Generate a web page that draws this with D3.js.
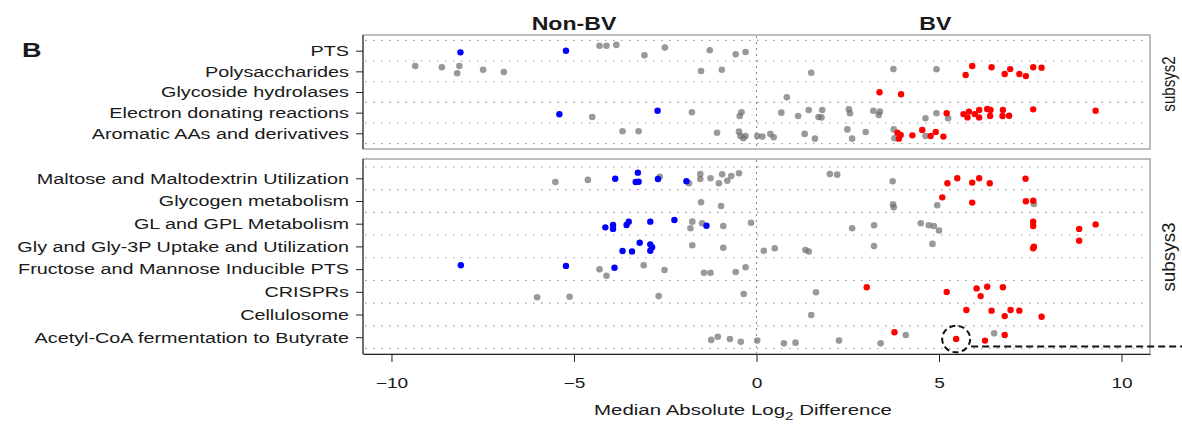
<!DOCTYPE html>
<html>
<head>
<meta charset="utf-8">
<script src="https://cdn.jsdelivr.net/npm/d3@7"></script>
<style>
  body { margin: 0; background: #fff; }
  svg { display: block; }
  text { font-family: "Liberation Sans", Arial, Helvetica, sans-serif; fill: #1a1a1a; }
</style>
</head>
<body>
<svg id="chart" width="1182" height="433"></svg>
<script>
// ---- data -------------------------------------------------------------
const xTicks = [-10, -5, 0, 5, 10];
const groupLabels = ["Non-BV", "BV"];
const groupLabelAt = [-5, 4.9];

const subsys2Cats = ["PTS", "Polysaccharides", "Glycoside hydrolases",
  "Electron donating reactions", "Aromatic AAs and derivatives"];
const subsys3Cats = ["Maltose and Maltodextrin Utilization", "Glycogen metabolism",
  "GL and GPL Metabolism", "Gly and Gly-3P Uptake and Utilization",
  "Fructose and Mannose Inducible PTS", "CRISPRs", "Cellulosome",
  "Acetyl-CoA fermentation to Butyrate"];

// [subsystem, median absolute log2 difference, vertical jitter (fraction of row)]
const nonBvPoints = [
  ["PTS", -8.11, 0.08], ["PTS", -5.22, 0.00],
  ["Electron donating reactions", -5.40, 0.08], ["Electron donating reactions", -2.71, -0.09],
  ["Maltose and Maltodextrin Utilization", -3.87, 0.02], ["Maltose and Maltodextrin Utilization", -3.25, -0.25],
  ["Maltose and Maltodextrin Utilization", -3.31, 0.16], ["Maltose and Maltodextrin Utilization", -3.23, 0.15],
  ["Maltose and Maltodextrin Utilization", -2.70, 0.03], ["Maltose and Maltodextrin Utilization", -1.92, 0.13],
  ["GL and GPL Metabolism", -2.25, -0.16], ["GL and GPL Metabolism", -2.91, -0.09],
  ["GL and GPL Metabolism", -3.50, -0.09], ["GL and GPL Metabolism", -3.56, 0.06],
  ["GL and GPL Metabolism", -4.14, 0.16], ["GL and GPL Metabolism", -3.93, 0.06],
  ["GL and GPL Metabolism", -3.93, 0.23], ["GL and GPL Metabolism", -1.37, 0.09],
  ["Gly and Gly-3P Uptake and Utilization", -3.20, -0.16], ["Gly and Gly-3P Uptake and Utilization", -2.91, -0.09],
  ["Gly and Gly-3P Uptake and Utilization", -2.86, 0.04], ["Gly and Gly-3P Uptake and Utilization", -2.91, 0.19],
  ["Gly and Gly-3P Uptake and Utilization", -3.67, 0.20], ["Gly and Gly-3P Uptake and Utilization", -3.41, 0.22],
  ["Fructose and Mannose Inducible PTS", -8.10, -0.17], ["Fructose and Mannose Inducible PTS", -5.22, -0.14],
  ["Fructose and Mannose Inducible PTS", -3.89, -0.06]
];

const bvPoints = [
  ["Polysaccharides", 5.73, 0.18], ["Polysaccharides", 5.91, -0.26], ["Polysaccharides", 6.44, -0.20],
  ["Polysaccharides", 6.80, 0.13], ["Polysaccharides", 6.95, -0.11], ["Polysaccharides", 7.20, 0.13],
  ["Polysaccharides", 7.38, 0.23], ["Polysaccharides", 7.58, -0.20], ["Polysaccharides", 7.81, -0.18],
  ["Glycoside hydrolases", 3.37, 0.01], ["Glycoside hydrolases", 3.96, 0.11],
  ["Electron donating reactions", 5.21, 0.03], ["Electron donating reactions", 5.67, 0.07],
  ["Electron donating reactions", 5.78, 0.23], ["Electron donating reactions", 5.82, -0.05],
  ["Electron donating reactions", 5.98, 0.07], ["Electron donating reactions", 6.10, -0.13],
  ["Electron donating reactions", 6.10, 0.23], ["Electron donating reactions", 6.32, -0.18],
  ["Electron donating reactions", 6.40, 0.16], ["Electron donating reactions", 6.41, -0.13],
  ["Electron donating reactions", 6.75, -0.13], ["Electron donating reactions", 6.74, 0.16],
  ["Electron donating reactions", 6.92, 0.15], ["Electron donating reactions", 7.58, -0.16],
  ["Electron donating reactions", 9.29, -0.09],
  ["Aromatic AAs and derivatives", 3.86, -0.03], ["Aromatic AAs and derivatives", 3.90, 0.26],
  ["Aromatic AAs and derivatives", 3.95, 0.08], ["Aromatic AAs and derivatives", 4.27, 0.10],
  ["Aromatic AAs and derivatives", 4.54, -0.16], ["Aromatic AAs and derivatives", 4.77, 0.13],
  ["Aromatic AAs and derivatives", 4.91, -0.06], ["Aromatic AAs and derivatives", 5.12, 0.16],
  ["Maltose and Maltodextrin Utilization", 5.23, 0.22], ["Maltose and Maltodextrin Utilization", 5.50, 0.00],
  ["Maltose and Maltodextrin Utilization", 5.91, 0.19], ["Maltose and Maltodextrin Utilization", 6.10, 0.00],
  ["Maltose and Maltodextrin Utilization", 6.39, 0.22], ["Maltose and Maltodextrin Utilization", 7.37, 0.02],
  ["Glycogen metabolism", 5.09, -0.16], ["Glycogen metabolism", 5.91, 0.07],
  ["Glycogen metabolism", 7.38, 0.01], ["Glycogen metabolism", 7.58, -0.01],
  ["GL and GPL Metabolism", 7.58, -0.09], ["GL and GPL Metabolism", 7.58, 0.10],
  ["GL and GPL Metabolism", 8.84, 0.23], ["GL and GPL Metabolism", 9.29, 0.03],
  ["Gly and Gly-3P Uptake and Utilization", 7.60, 0.01], ["Gly and Gly-3P Uptake and Utilization", 7.58, 0.08],
  ["Gly and Gly-3P Uptake and Utilization", 8.84, -0.25],
  ["CRISPRs", 3.02, -0.20], ["CRISPRs", 5.21, 0.01], ["CRISPRs", 6.03, -0.15],
  ["CRISPRs", 6.32, -0.22], ["CRISPRs", 6.14, 0.19], ["CRISPRs", 6.75, -0.20],
  ["Cellulosome", 5.75, -0.20], ["Cellulosome", 6.44, -0.17], ["Cellulosome", 6.80, 0.07],
  ["Cellulosome", 6.96, -0.20], ["Cellulosome", 7.20, -0.17], ["Cellulosome", 7.81, 0.10],
  ["Acetyl-CoA fermentation to Butyrate", 3.78, -0.22], ["Acetyl-CoA fermentation to Butyrate", 5.47, 0.08],
  ["Acetyl-CoA fermentation to Butyrate", 6.26, 0.15], ["Acetyl-CoA fermentation to Butyrate", 6.80, -0.10]
];

const otherPoints = [
  ["PTS", -4.30, -0.24], ["PTS", -4.11, -0.24], ["PTS", -3.84, -0.28], ["PTS", -3.07, 0.22],
  ["PTS", -2.51, -0.15], ["PTS", -1.28, -0.02], ["PTS", -0.57, 0.17], ["PTS", -0.30, 0.06],
  ["Polysaccharides", -9.35, -0.26], ["Polysaccharides", -8.62, -0.20], ["Polysaccharides", -8.14, -0.26],
  ["Polysaccharides", -8.20, 0.09], ["Polysaccharides", -7.49, -0.08], ["Polysaccharides", -6.92, 0.03],
  ["Polysaccharides", -1.52, -0.02], ["Polysaccharides", -0.95, -0.08], ["Polysaccharides", 1.50, 0.07],
  ["Polysaccharides", 3.75, -0.11], ["Polysaccharides", 4.93, -0.10],
  ["Glycoside hydrolases", 0.83, 0.26],
  ["Electron donating reactions", -4.50, 0.21], ["Electron donating reactions", -1.77, -0.02],
  ["Electron donating reactions", -0.41, -0.02], ["Electron donating reactions", -0.46, 0.16],
  ["Electron donating reactions", 0.68, 0.00], ["Electron donating reactions", 1.14, 0.16],
  ["Electron donating reactions", 1.43, -0.13], ["Electron donating reactions", 1.80, -0.13],
  ["Electron donating reactions", 1.78, 0.23], ["Electron donating reactions", 1.70, 0.21],
  ["Electron donating reactions", 2.53, -0.16], ["Electron donating reactions", 2.56, 0.03],
  ["Electron donating reactions", 3.20, -0.09], ["Electron donating reactions", 3.38, -0.05],
  ["Electron donating reactions", 3.35, 0.11], ["Electron donating reactions", 4.63, 0.27],
  ["Electron donating reactions", 4.93, 0.03], ["Electron donating reactions", 5.25, 0.27],
  ["Aromatic AAs and derivatives", -3.67, -0.10], ["Aromatic AAs and derivatives", -3.23, -0.10],
  ["Aromatic AAs and derivatives", -1.08, -0.03], ["Aromatic AAs and derivatives", -0.48, -0.08],
  ["Aromatic AAs and derivatives", -0.44, 0.13], ["Aromatic AAs and derivatives", -0.36, 0.24],
  ["Aromatic AAs and derivatives", -0.30, 0.13], ["Aromatic AAs and derivatives", 0.02, 0.13],
  ["Aromatic AAs and derivatives", 0.16, 0.16], ["Aromatic AAs and derivatives", 0.38, 0.03],
  ["Aromatic AAs and derivatives", 0.47, 0.19], ["Aromatic AAs and derivatives", 1.32, 0.03],
  ["Aromatic AAs and derivatives", 1.60, 0.26], ["Aromatic AAs and derivatives", 2.49, -0.19],
  ["Aromatic AAs and derivatives", 2.62, 0.26], ["Aromatic AAs and derivatives", 2.99, -0.06],
  ["Aromatic AAs and derivatives", 3.76, -0.19], ["Aromatic AAs and derivatives", 3.78, 0.24],
  ["Aromatic AAs and derivatives", 4.63, 0.13],
  ["Maltose and Maltodextrin Utilization", -5.51, 0.16], ["Maltose and Maltodextrin Utilization", -4.62, 0.07],
  ["Maltose and Maltodextrin Utilization", -2.65, -0.07], ["Maltose and Maltodextrin Utilization", -1.85, 0.22],
  ["Maltose and Maltodextrin Utilization", -1.54, -0.19], ["Maltose and Maltodextrin Utilization", -1.54, 0.03],
  ["Maltose and Maltodextrin Utilization", -1.26, 0.00], ["Maltose and Maltodextrin Utilization", -1.03, 0.22],
  ["Maltose and Maltodextrin Utilization", -0.94, -0.18], ["Maltose and Maltodextrin Utilization", -0.80, 0.11],
  ["Maltose and Maltodextrin Utilization", -0.69, -0.10], ["Maltose and Maltodextrin Utilization", -0.48, -0.22],
  ["Maltose and Maltodextrin Utilization", 2.01, -0.19], ["Maltose and Maltodextrin Utilization", 2.21, -0.16],
  ["Maltose and Maltodextrin Utilization", 3.73, 0.13],
  ["Glycogen metabolism", -1.52, 0.06], ["Glycogen metabolism", -0.97, 0.22],
  ["Glycogen metabolism", 3.74, 0.15], ["Glycogen metabolism", 3.76, 0.28],
  ["Glycogen metabolism", 4.95, 0.19], ["Glycogen metabolism", 7.60, 0.13],
  ["GL and GPL Metabolism", -1.76, -0.09], ["GL and GPL Metabolism", -1.81, 0.20],
  ["GL and GPL Metabolism", -1.49, -0.02], ["GL and GPL Metabolism", -0.91, 0.10],
  ["GL and GPL Metabolism", -0.15, -0.04], ["GL and GPL Metabolism", 2.62, 0.20],
  ["GL and GPL Metabolism", 3.22, 0.07], ["GL and GPL Metabolism", 4.50, -0.02],
  ["GL and GPL Metabolism", 4.72, 0.07], ["GL and GPL Metabolism", 4.86, 0.10],
  ["GL and GPL Metabolism", 5.00, 0.30],
  ["Gly and Gly-3P Uptake and Utilization", -1.76, -0.05], ["Gly and Gly-3P Uptake and Utilization", -0.91, 0.06],
  ["Gly and Gly-3P Uptake and Utilization", 0.20, 0.19], ["Gly and Gly-3P Uptake and Utilization", 0.50, 0.08],
  ["Gly and Gly-3P Uptake and Utilization", 1.34, 0.16], ["Gly and Gly-3P Uptake and Utilization", 1.43, 0.23],
  ["Gly and Gly-3P Uptake and Utilization", 3.22, -0.02], ["Gly and Gly-3P Uptake and Utilization", 4.82, -0.11],
  ["Fructose and Mannose Inducible PTS", -4.30, 0.01], ["Fructose and Mannose Inducible PTS", -4.11, 0.29],
  ["Fructose and Mannose Inducible PTS", -3.09, -0.17], ["Fructose and Mannose Inducible PTS", -2.52, 0.04],
  ["Fructose and Mannose Inducible PTS", -1.44, 0.16], ["Fructose and Mannose Inducible PTS", -1.26, 0.16],
  ["Fructose and Mannose Inducible PTS", -0.57, 0.13], ["Fructose and Mannose Inducible PTS", -0.30, -0.08],
  ["CRISPRs", -6.01, 0.24], ["CRISPRs", -5.12, 0.22], ["CRISPRs", -2.68, 0.19],
  ["CRISPRs", -0.35, 0.10], ["CRISPRs", 1.63, 0.02],
  ["Cellulosome", 1.50, 0.02],
  ["Acetyl-CoA fermentation to Butyrate", -1.24, 0.12], ["Acetyl-CoA fermentation to Butyrate", -1.06, -0.02],
  ["Acetyl-CoA fermentation to Butyrate", -0.73, 0.08], ["Acetyl-CoA fermentation to Butyrate", -0.43, 0.20],
  ["Acetyl-CoA fermentation to Butyrate", 0.02, 0.15], ["Acetyl-CoA fermentation to Butyrate", 0.75, 0.27],
  ["Acetyl-CoA fermentation to Butyrate", 1.07, 0.24], ["Acetyl-CoA fermentation to Butyrate", 2.26, 0.15],
  ["Acetyl-CoA fermentation to Butyrate", 3.40, 0.27], ["Acetyl-CoA fermentation to Butyrate", 4.09, -0.10],
  ["Acetyl-CoA fermentation to Butyrate", 6.51, -0.17]
];

// the circled example feature
const highlight = ["Acetyl-CoA fermentation to Butyrate", 5.47, 0.08];

// ---- layout -----------------------------------------------------------
const SX = 1.32;            // horizontal stretch of the lettering
const FONT = '"Liberation Sans", Arial, Helvetica, sans-serif';
const svg = d3.select("#chart");
const x = d3.scaleLinear().domain([-10.78, 10.78]).range([363, 1150]);

const panels = [
  { strip: "subsys2", cats: subsys2Cats, top: 35, bottom: 149, first: 50.7, last: 133.3, stripY: 84, stripSY: 1.04 },
  { strip: "subsys3", cats: subsys3Cats, top: 159, bottom: 354, first: 178.3, last: 337.2, stripY: 257, stripSY: 1.3 }
];
panels.forEach(p => {
  p.y = d3.scalePoint().domain(p.cats).range([p.first, p.last]);
  p.step = p.y.step();
});
const panelOf = cat => panels.find(p => p.cats.includes(cat));
const py = d => { const p = panelOf(d[0]); return p.y(d[0]) + d[2] * p.step; };

function stretchedText(parent, tx, ty, str, size, anchor, weight) {
  return parent.append("g")
    .attr("transform", `translate(${tx},${ty}) scale(${SX},1)`)
    .append("text")
    .attr("text-anchor", anchor)
    .style("font-size", size + "px")
    .style("font-weight", weight || "normal")
    .text(str);
}

// ---- panels -----------------------------------------------------------
panels.forEach(p => {
  const g = svg.append("g");

  // dotted row separators
  const edges = d3.range(p.cats.length + 1).map(k => p.first - p.step / 2 + k * p.step);
  g.selectAll("line.row").data(edges).join("line")
    .attr("x1", x.range()[0] + 2).attr("x2", x.range()[1] - 2)
    .attr("y1", d => d).attr("y2", d => d)
    .attr("stroke", "#9a9a9a").attr("stroke-width", 1.1)
    .attr("stroke-dasharray", "1.5,6.5");

  // zero reference
  g.append("line")
    .attr("x1", x(0)).attr("x2", x(0))
    .attr("y1", p.top + 1).attr("y2", p.bottom - 1)
    .attr("stroke", "#8a8a8a").attr("stroke-width", 1.1)
    .attr("stroke-dasharray", "2,4");

  // frame
  g.append("rect")
    .attr("x", x.range()[0]).attr("y", p.top)
    .attr("width", x.range()[1] - x.range()[0]).attr("height", p.bottom - p.top)
    .attr("fill", "none").attr("stroke", "#7a7a7a").attr("stroke-width", 1);

  // left axis with category names
  const ax = g.append("g").attr("transform", `translate(${x.range()[0]},0)`)
    .call(d3.axisLeft(p.y).tickSize(7).tickPadding(0).tickSizeOuter(0));
  ax.select(".domain").attr("d", `M0,${p.top}V${p.bottom}`).attr("stroke", "#222");
  ax.selectAll(".tick line").attr("stroke", "#222");
  ax.selectAll(".tick text")
    .attr("x", -14 / SX)
    .attr("dy", "0.32em")
    .attr("transform", `scale(${SX},1)`)
    .style("font-size", "15px")
    .style("font-family", FONT)
    .attr("fill", "#1a1a1a");

  // strip label on the right
  svg.append("g")
    .attr("transform", `translate(1168,${p.stripY}) scale(${SX},${p.stripSY}) rotate(-90)`)
    .append("text")
    .attr("text-anchor", "middle").attr("dominant-baseline", "central")
    .style("font-size", "14.5px")
    .text(p.strip);
});

// bottom axis
const bottom = panels[1].bottom;
const xa = svg.append("g").attr("transform", `translate(0,${bottom})`)
  .call(d3.axisBottom(x).tickValues(xTicks).tickSize(8).tickPadding(16).tickSizeOuter(0));
xa.select(".domain").attr("stroke", "#222");
xa.selectAll(".tick line").attr("stroke", "#222");
xa.selectAll(".tick text")
  .attr("transform", `scale(${SX},1)`)
  .style("font-size", "14.5px")
  .style("font-family", FONT)
  .attr("fill", "#1a1a1a");

// axis title with subscript
const title = svg.append("g").attr("transform", `translate(743,415) scale(${SX},1)`)
  .append("text").attr("text-anchor", "middle").style("font-size", "15.5px");
title.append("tspan").text("Median Absolute Log");
title.append("tspan").attr("dy", 5).style("font-size", "11.5px").text("2");
title.append("tspan").attr("dy", -5).text(" Difference");

// group headers
groupLabels.forEach((lab, i) => stretchedText(svg, x(groupLabelAt[i]), 30, lab, 17.5, "middle", "bold"));

// panel letter
stretchedText(svg, 22, 57, "B", 20.5, "start", "bold");

// ---- points -----------------------------------------------------------
const dots = svg.append("g");
dots.selectAll("circle.other").data(otherPoints).join("circle")
  .attr("cx", d => x(d[1])).attr("cy", py).attr("r", 3.3)
  .attr("fill", "#6e6e6e").attr("fill-opacity", 0.7);
dots.selectAll("circle.nonbv").data(nonBvPoints).join("circle")
  .attr("cx", d => x(d[1])).attr("cy", py).attr("r", 3.2)
  .attr("fill", "#0000ff");
dots.selectAll("circle.bv").data(bvPoints).join("circle")
  .attr("cx", d => x(d[1])).attr("cy", py).attr("r", 3.2)
  .attr("fill", "#ff0000");

// ---- call-out ---------------------------------------------------------
const hx = x(highlight[1]), hy = py(highlight);
svg.append("ellipse")
  .attr("cx", hx).attr("cy", hy).attr("rx", 14).attr("ry", 13.3)
  .attr("fill", "none").attr("stroke", "#111").attr("stroke-width", 2)
  .attr("stroke-dasharray", "6,3.5");
svg.append("line")
  .attr("x1", hx + 15).attr("x2", 1182)
  .attr("y1", hy + 7.5).attr("y2", hy + 7.5)
  .attr("stroke", "#111").attr("stroke-width", 2)
  .attr("stroke-dasharray", "7,4");
</script>
</body>
</html>
